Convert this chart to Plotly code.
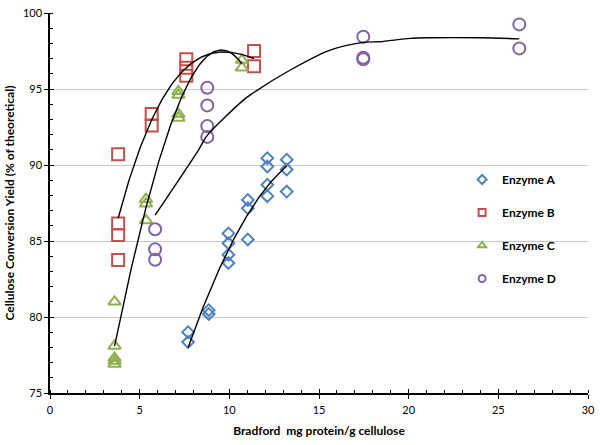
import numpy as np
import plotly.graph_objects as go

# ---- data ----
enzA_x = [7.7, 7.7, 8.85, 8.85, 9.95, 9.95, 9.95, 9.95, 11.03, 11.03, 11.03,
          12.12, 12.12, 12.12, 12.12, 13.2, 13.2, 13.2]
enzA_y = [79.0, 78.35, 80.45, 80.2, 85.5, 84.85, 84.1, 83.55, 87.7, 87.15, 85.1,
          90.45, 89.9, 88.7, 87.95, 90.35, 89.7, 88.25]

enzB_x = [3.8, 3.8, 3.8, 3.8, 5.67, 5.67, 7.6, 7.6, 7.6, 11.38, 11.38]
enzB_y = [90.7, 86.15, 85.4, 83.75, 93.35, 92.6, 96.95, 96.4, 95.88, 97.5, 96.5]

enzC_x = [3.6, 3.6, 3.6, 3.6, 3.6, 5.35, 5.35, 5.35, 7.16, 7.16, 7.16, 7.16, 10.7, 10.7]
enzC_y = [81.0, 78.1, 77.3, 77.1, 76.9, 87.75, 87.45, 86.35, 94.85, 94.6, 93.35, 93.1,
          96.9, 96.4]

enzD_x = [5.86, 5.86, 5.86, 8.77, 8.77, 8.77, 8.77, 17.47, 17.47, 17.47, 26.17, 26.17]
enzD_y = [85.77, 84.45, 83.77, 95.08, 93.92, 92.56, 91.85, 98.44, 97.06, 96.95, 99.25, 97.67]

# trend curve of Enzyme D
trendD_x = [5.86, 8.27, 8.77, 10.78, 11.15, 13.4, 15.62, 17.47, 18.4, 20.08, 21.2, 23.98, 26.17]
trendD_y = [86.7, 90.97, 91.95, 94.27, 94.6, 96.25, 97.56, 98.07, 98.11, 98.33, 98.37, 98.37, 98.3]

series_names = ["Enzyme A", "Enzyme B", "Enzyme C", "Enzyme D"]
fit_orders = [2, 3, 3]   # polynomial trendlines for A, B, C

x_tick_vals = [0, 5, 10, 15, 20, 25, 30]
y_tick_vals = [75, 80, 85, 90, 95, 100]

# ---- styling ----
colors = ["#4F81BD", "#C0504D", "#8FAF4F", "#8064A2"]
symbols = ["diamond-open", "square-open", "triangle-up-open", "circle-open"]
sizes = [9, 12, 11, 12]
FONT = "Lato, 'Open Sans', Arial, sans-serif"

data = [(enzA_x, enzA_y), (enzB_x, enzB_y), (enzC_x, enzC_y), (enzD_x, enzD_y)]

fig = go.Figure()

# markers
for (xs, ys), name, c, s, sz in zip(data, series_names, colors, symbols, sizes):
    fig.add_trace(go.Scatter(
        x=xs, y=ys, mode="markers", name=name, showlegend=False,
        marker=dict(symbol=s, size=sz, color=c, line=dict(color=c, width=2)),
        hoverinfo="x+y"))

# polynomial trend lines computed from the data (A, B, C)
for (xs, ys), order in zip(data[:3], fit_orders):
    coef = np.polyfit(xs, ys, order)
    xx = np.linspace(min(xs), max(xs), 120)
    fig.add_trace(go.Scatter(
        x=xx, y=np.polyval(coef, xx), mode="lines", showlegend=False,
        line=dict(color="black", width=1.4), hoverinfo="skip"))

# trend line D
fig.add_trace(go.Scatter(
    x=trendD_x, y=trendD_y, mode="lines", showlegend=False,
    line=dict(color="black", width=1.4, shape="spline", smoothing=0.8),
    hoverinfo="skip"))

# legend entries (small markers)
for name, c, s in zip(series_names, colors, symbols):
    fig.add_trace(go.Scatter(
        x=[None], y=[None], mode="markers", name=name, legendgroup=name,
        marker=dict(symbol=s, size=7, color=c, line=dict(color=c, width=2))))

# invisible trace for overlay axes (cross ticks)
fig.add_trace(go.Scatter(x=[None], y=[None], xaxis="x2", yaxis="y2",
                         showlegend=False, hoverinfo="skip"))

axis_font = dict(family=FONT, size=11, color="black")
title_font = dict(family=FONT, size=12, color="black", weight="bold")

fig.update_layout(
    width=600, height=445,
    margin=dict(l=50, r=12, t=13, b=52, autoexpand=False),
    paper_bgcolor="white", plot_bgcolor="white",
    font=dict(family=FONT, color="black"),
    xaxis=dict(range=[0, 30], tickvals=x_tick_vals, ticks="outside", ticklen=4,
               tickwidth=1.3, tickcolor="black", showline=True, linecolor="black",
               linewidth=1.5, showgrid=False, zeroline=False, tickfont=axis_font,
               automargin=False, ticklabelstandoff=2, ticklabeloverflow="allow",
               minor=dict(dtick=1, ticks="inside", ticklen=3, tickwidth=1,
                          tickcolor="black", showgrid=False),
               title=dict(text="Bradford\u00a0 mg protein/g cellulose", font=title_font,
                          standoff=12)),
    yaxis=dict(range=[75, 100.0001], tickvals=y_tick_vals, ticks="outside", ticklen=4,
               tickwidth=1.3, tickcolor="black", showline=True, linecolor="black",
               linewidth=1.5, showgrid=True, gridcolor="#C8C8C8", gridwidth=1,
               zeroline=False, tickfont=axis_font, automargin=False,
               ticklabeloverflow="allow",
               minor=dict(dtick=1, ticks="inside", ticklen=3, tickwidth=1,
                          tickcolor="black", showgrid=False),
               title=dict(text="Cellulose Conversion Yield (% of theoretical)",
                          font=title_font, standoff=6)),
    xaxis2=dict(overlaying="x", range=[0, 30], tickvals=x_tick_vals, ticks="inside",
                ticklen=4, tickwidth=1.3, tickcolor="black", showticklabels=False,
                showgrid=False, zeroline=False, showline=False, automargin=False),
    yaxis2=dict(overlaying="y", range=[75, 100.0001], tickvals=y_tick_vals, ticks="inside",
                ticklen=4, tickwidth=1.3, tickcolor="black", showticklabels=False,
                showgrid=False, zeroline=False, showline=False, automargin=False),
    legend=dict(x=0.766, y=0.6, xanchor="left", yanchor="top",
                font=dict(family=FONT, size=12, color="black", weight="bold"),
                tracegroupgap=14, bgcolor="rgba(0,0,0,0)"),
)

fig.write_html("out.html", config={"displayModeBar": False},
               post_script="document.body.style.margin='0';document.body.style.overflow='hidden';")
